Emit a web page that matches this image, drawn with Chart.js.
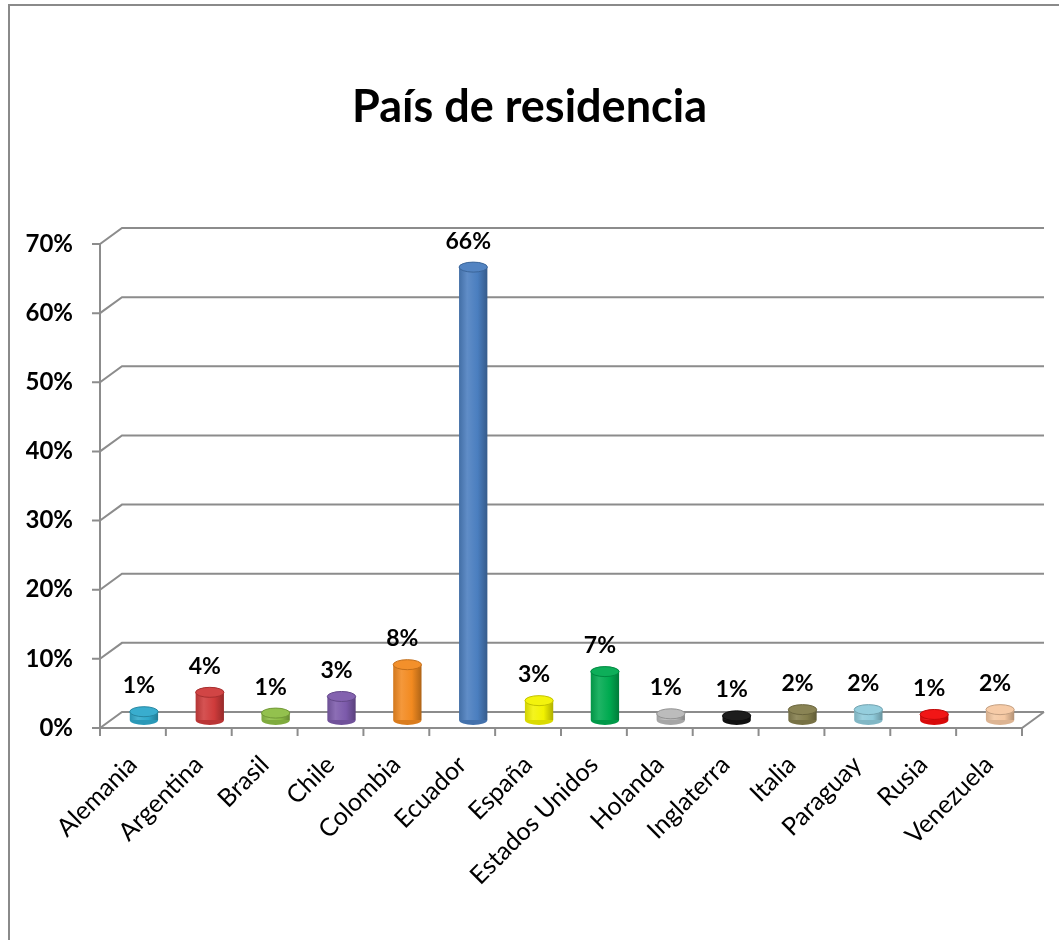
<!DOCTYPE html>
<html>
<head>
<meta charset="utf-8">
<script src="https://cdn.jsdelivr.net/npm/chart.js@4.4.1/dist/chart.umd.min.js"></script>
<style>
  html, body { margin: 0; padding: 0; background: #fff; overflow: hidden; width: 1059px; height: 940px; }
  #frame { position: absolute; left: 8px; top: 4px; width: 1200px; height: 1100px; border: 2px solid #8a8a8a; box-sizing: border-box; }
  #c { position: absolute; left: 0; top: 0; }
</style>
</head>
<body>
<div id="frame"></div>
<canvas id="c" width="1059" height="940"></canvas>
<script>
const categories = ["Alemania","Argentina","Brasil","Chile","Colombia","Ecuador","España","Estados Unidos","Holanda","Inglaterra","Italia","Paraguay","Rusia","Venezuela"];
const values = [0.012, 0.040, 0.010, 0.034, 0.080, 0.655, 0.028, 0.070, 0.009, 0.006, 0.015, 0.015, 0.008, 0.015];
const valueLabels = ["1%","4%","1%","3%","8%","66%","3%","7%","1%","1%","2%","2%","1%","2%"];
const barColors = ["#2FA9CB","#CF3B3B","#8DBE45","#7C5AAB","#F28A20","#4A7EBF","#F2F200","#00AA50","#B8B8B8","#111111","#847E4C","#8FCBDB","#F00A0A","#F5C8A2"];
const yTicks = [0, 0.1, 0.2, 0.3, 0.4, 0.5, 0.6, 0.7];
const titleText = "País de residencia";

const DX = 11, DY = 8;
const FONT = "Lato, 'Open Sans', sans-serif";

function shade(hex, amt) {
  const n = parseInt(hex.slice(1), 16);
  let r = (n >> 16) & 255, g = (n >> 8) & 255, b = n & 255;
  if (amt >= 0) { r += (255 - r) * amt; g += (255 - g) * amt; b += (255 - b) * amt; }
  else { r *= (1 + amt); g *= (1 + amt); b *= (1 + amt); }
  return `rgb(${Math.round(r)},${Math.round(g)},${Math.round(b)})`;
}

function barFill(ctx) {
  const chart = ctx.chart;
  const sc = chart.scales && chart.scales.x;
  const base = barColors[ctx.dataIndex];
  if (!sc || !chart.chartArea || ctx.dataIndex === undefined) return base;
  const cx = sc.getPixelForValue(ctx.dataIndex);
  const hw = 15;
  const g = chart.ctx.createLinearGradient(cx - hw, 0, cx + hw, 0);
  g.addColorStop(0, shade(base, -0.15));
  g.addColorStop(0.3, shade(base, 0.12));
  g.addColorStop(0.65, base);
  g.addColorStop(1, shade(base, -0.3));
  return g;
}

const frame3d = {
  id: 'frame3d',
  beforeDatasetsDraw(chart) {
    const { ctx, chartArea, scales } = chart;
    const y = scales.y;
    const fl = chartArea.left - DX, fr = chartArea.right - DX;
    const bl = chartArea.left + DX, br = chartArea.right + DX;
    ctx.save();
    ctx.strokeStyle = '#8c8c8c';
    ctx.lineWidth = 2;
    ctx.lineCap = 'butt';
    yTicks.forEach(v => {
      const ym = y.getPixelForValue(v);
      const yf = ym + DY, yb = ym - DY;
      ctx.beginPath();
      ctx.moveTo(fl - 8, yf); ctx.lineTo(fl, yf); ctx.lineTo(bl, yb); ctx.lineTo(br, yb);
      ctx.stroke();
    });
    const y0 = y.getPixelForValue(0), yTop = y.getPixelForValue(yTicks[yTicks.length - 1]);
    ctx.beginPath();
    ctx.moveTo(fl, yTop + DY); ctx.lineTo(fl, y0 + DY);
    ctx.stroke();
    ctx.beginPath();
    ctx.moveTo(fl, y0 + DY); ctx.lineTo(fr, y0 + DY); ctx.lineTo(br, y0 - DY);
    ctx.stroke();
    const n = categories.length;
    for (let i = 0; i <= n; i++) {
      const x = fl + (fr - fl) * i / n;
      ctx.beginPath();
      ctx.moveTo(x, y0 + DY); ctx.lineTo(x, y0 + DY + 8);
      ctx.stroke();
    }
    ctx.restore();
  },
  afterDatasetsDraw(chart) {
    const { ctx } = chart;
    const meta = chart.getDatasetMeta(0);
    ctx.save();
    meta.data.forEach((bar, i) => {
      const base = barColors[i];
      const w = bar.width, rx = w / 2, ry = 5;
      ctx.beginPath();
      ctx.ellipse(bar.x, bar.base, rx, ry, 0, 0, Math.PI);
      ctx.fillStyle = shade(base, -0.1);
      ctx.fill();
      ctx.beginPath();
      ctx.ellipse(bar.x, bar.y, rx, ry, 0, 0, Math.PI * 2);
      ctx.fillStyle = shade(base, 0.05);
      ctx.fill();
      ctx.strokeStyle = shade(base, -0.2);
      ctx.lineWidth = 1;
      ctx.stroke();
      ctx.fillStyle = '#000';
      ctx.font = `bold 23px ${FONT}`;
      ctx.textAlign = 'center';
      ctx.textBaseline = 'middle';
      ctx.fillText(valueLabels[i], bar.x - 5, bar.y - 26);
    });
    ctx.restore();
  }
};

new Chart(document.getElementById('c'), {
  type: 'bar',
  data: {
    labels: categories,
    datasets: [{
      data: values,
      backgroundColor: barFill,
      borderWidth: 0,
      categoryPercentage: 1,
      barPercentage: 0.43
    }]
  },
  plugins: [frame3d],
  options: {
    responsive: false,
    devicePixelRatio: 1,
    animation: false,
    layout: { padding: { left: 26, top: 0, right: 26, bottom: 0 } },
    plugins: {
      legend: { display: false },
      tooltip: { enabled: false },
      title: {
        display: true,
        text: titleText,
        color: '#000',
        font: { family: FONT, size: 45, weight: 'bold', lineHeight: 1.2 },
        padding: { top: 80, bottom: 102 }
      }
    },
    scales: {
      x: {
        grid: { display: false, drawTicks: false },
        border: { display: false },
        afterFit(s) { s.height = 220; },
        ticks: {
          color: '#000',
          font: { family: FONT, size: 25 },
          minRotation: 45, maxRotation: 45,
          autoSkip: false,
          padding: 30,
          labelOffset: -11
        }
      },
      y: {
        min: 0, max: 0.7,
        grid: { display: false, drawTicks: false },
        border: { display: false },
        afterFit(s) { s.width = 85; },
        afterBuildTicks(s) { s.ticks = yTicks.map(v => ({ value: v })); },
        ticks: {
          color: '#000',
          font: { family: FONT, size: 24, weight: 'bold' },
          padding: 38,
          labelOffset: 8,
          callback: v => Math.round(v * 100) + '%'
        }
      }
    }
  }
});
</script>
</body>
</html>
